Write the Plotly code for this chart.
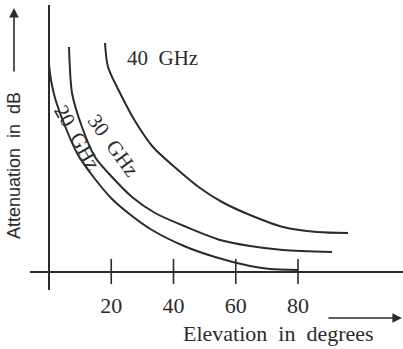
import plotly.graph_objects as go

# ---- data ----
elev_20 = [0.0, 0.64, 1.93, 5.14, 9.32, 14.78, 20.24, 26.67, 33.09, 43.37, 53.33, 64.58, 71.0, 80.0]
att_20 = [8.30, 7.66, 6.94, 5.82, 4.66, 3.70, 2.90, 2.22, 1.66, 1.02, 0.58, 0.22, 0.10, 0.06]

elev_30 = [6.43, 6.59, 7.39, 10.60, 14.78, 20.24, 26.67, 34.06, 43.37, 54.94, 64.58, 75.18, 90.92]
att_30 = [8.98, 8.46, 7.14, 5.78, 4.58, 3.78, 2.98, 2.34, 1.82, 1.26, 1.02, 0.86, 0.78]

elev_40 = [17.99, 18.96, 22.81, 27.63, 33.41, 41.45, 48.51, 55.58, 64.58, 75.18, 86.10, 96.06]
att_40 = [9.14, 8.18, 7.14, 6.02, 4.98, 4.06, 3.34, 2.78, 2.26, 1.78, 1.58, 1.54]

tick_vals = [20, 40, 60, 80]
tick_text = ["20", "40", "60", "80"]

series_names = ["20  GHz", "30  GHz", "40  GHz"]
label_pos_x = [9.0, 20.56, 36.6]
label_pos_y = [5.38, 5.06, 8.54]
label_angle = [60, 54, 0]

INK = "#2b2b2b"
SERIF = "Liberation Serif, Times New Roman, serif"
SANS = "Liberation Sans, Arial, sans-serif"

fig = go.Figure()
for xs, ys in [(elev_20, att_20), (elev_30, att_30), (elev_40, att_40)]:
    fig.add_trace(go.Scatter(x=xs, y=ys, mode="lines",
                             line=dict(color=INK, width=2, shape="spline", smoothing=0.8),
                             hoverinfo="skip", showlegend=False))

# tick marks crossing the horizontal axis
fig.add_trace(go.Scatter(x=tick_vals, y=[0] * len(tick_vals), mode="markers",
                         marker=dict(symbol="line-ns", size=18,
                                     line=dict(width=1.6, color=INK)),
                         hoverinfo="skip", showlegend=False))

# curve labels
for name, lx, ly, ang in zip(series_names, label_pos_x, label_pos_y, label_angle):
    fig.add_annotation(x=lx, y=ly, xref="x", yref="y", text=name, showarrow=False,
                       textangle=ang, font=dict(family=SERIF, size=21, color=INK),
                       xanchor="center", yanchor="middle")

# axis titles
fig.add_annotation(x=0.665, y=-0.151, xref="paper", yref="paper",
                   text="Elevation  in  degrees", showarrow=False,
                   font=dict(family=SERIF, size=22, color=INK),
                   xanchor="center", yanchor="middle")
fig.add_annotation(x=-0.0429, y=0.4386, xref="paper", yref="paper",
                   text="Attenuation  in  dB", showarrow=False, textangle=-90,
                   font=dict(family=SANS, size=18, color=INK),
                   xanchor="center", yanchor="middle")

# direction arrows
fig.add_annotation(x=0.9973, y=-0.0982, xref="paper", yref="paper", text="",
                   showarrow=True, ax=-75, ay=0, arrowhead=2, arrowsize=1.2,
                   arrowwidth=1.6, arrowcolor=INK)
fig.add_annotation(x=-0.0429, y=0.9895, xref="paper", yref="paper", text="",
                   showarrow=True, ax=0, ay=65, arrowhead=2, arrowsize=1.2,
                   arrowwidth=1.6, arrowcolor=INK)

fig.update_layout(
    width=403, height=349,
    margin=dict(l=30, r=0, t=5, b=59),
    paper_bgcolor="white", plot_bgcolor="white",
    xaxis=dict(range=[-6.104, 113.73], showgrid=False, showline=False,
               zeroline=True, zerolinecolor=INK, zerolinewidth=1.6,
               tickmode="array", tickvals=tick_vals, ticktext=tick_text,
               ticks="", tickfont=dict(family=SERIF, size=22, color=INK)),
    yaxis=dict(range=[-0.74, 10.66], showgrid=False, showline=False,
               zeroline=True, zerolinecolor=INK, zerolinewidth=1.6,
               showticklabels=False, ticks=""),
)

fig.write_html("out.html", config={"displayModeBar": False},
               post_script="document.body.style.margin='0px';document.body.style.overflow='hidden';")
